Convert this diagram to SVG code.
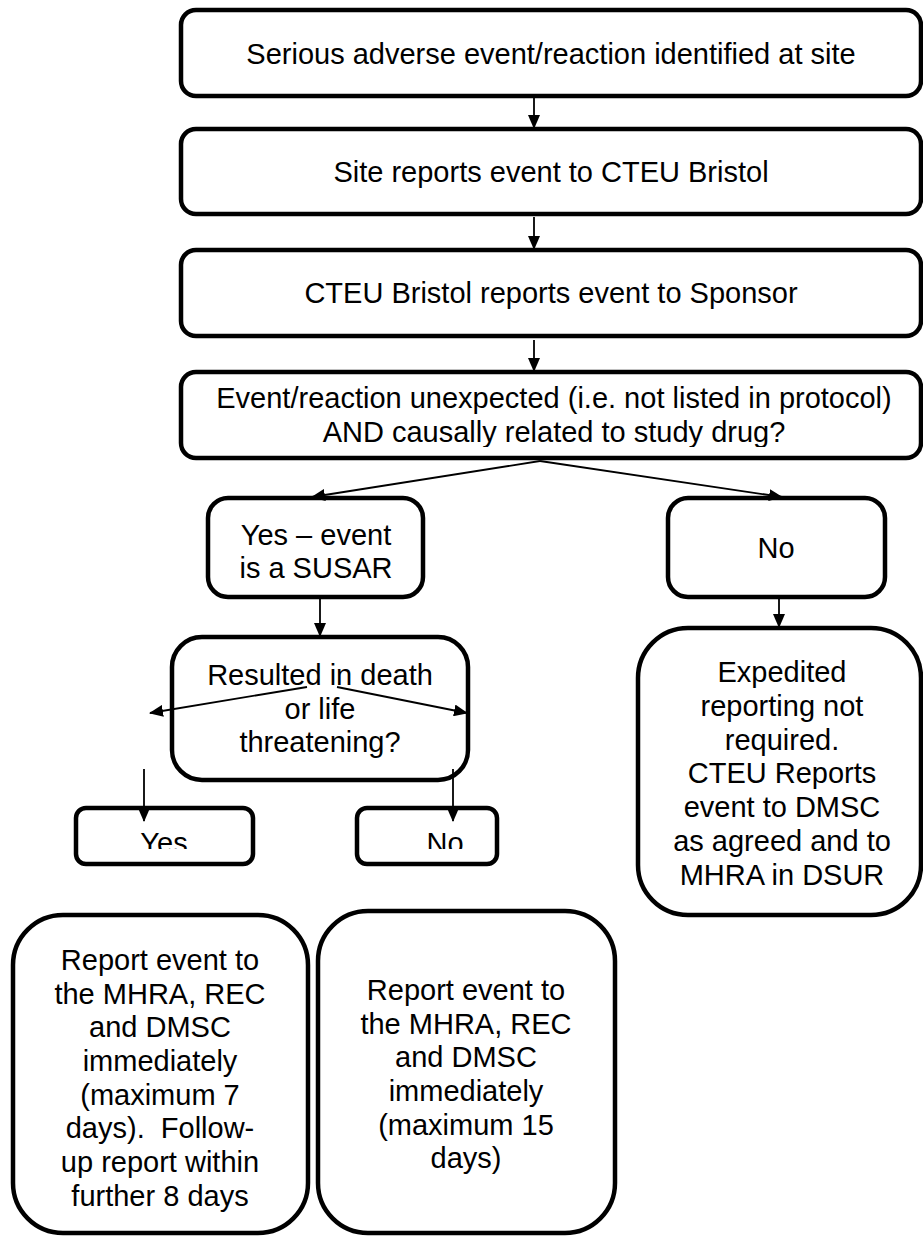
<svg xmlns="http://www.w3.org/2000/svg" width="923" height="1238" viewBox="0 0 923 1238">
<style>
.box{fill:#fff;stroke:#000;stroke-width:4.5}
.t{font-family:"Liberation Sans",Arial,sans-serif;font-size:29px;fill:#000;text-anchor:middle}
.c{stroke:#000;stroke-width:1.8;fill:none}
</style>
<defs>
<marker id="ah" markerWidth="14" markerHeight="12" refX="13" refY="6" orient="auto" markerUnits="userSpaceOnUse">
<path d="M0,0 L14,6 L0,12 z" fill="#000"/>
</marker>
<clipPath id="clipYN"><rect x="0" y="800" width="923" height="49"/></clipPath>
<clipPath id="clipQ"><rect x="0" y="370" width="923" height="77"/></clipPath>
</defs>
<rect width="923" height="1238" fill="#fff"/>

<g id="n1">
<rect class="box" x="181" y="10" width="740" height="86" rx="15"/>
<text class="t" x="551" y="63.5">Serious adverse event/reaction identified at site</text>
</g>
<g id="n2">
<rect class="box" x="181" y="129" width="740" height="85" rx="15"/>
<text class="t" x="551" y="182">Site reports event to CTEU Bristol</text>
</g>
<g id="n3">
<rect class="box" x="181" y="250" width="740" height="86" rx="15"/>
<text class="t" x="551" y="303">CTEU Bristol reports event to Sponsor</text>
</g>
<g id="n4">
<rect class="box" x="181" y="372" width="740" height="86" rx="15"/>
<g clip-path="url(#clipQ)">
<text class="t" x="554" y="408">Event/reaction unexpected (i.e. not listed in protocol)</text>
<text class="t" x="554" y="442">AND causally related to study drug?</text>
</g>
</g>
<g id="n5">
<rect class="box" x="208" y="498" width="215" height="99" rx="20"/>
<text class="t" x="316" y="545">Yes – event</text>
<text class="t" x="316" y="578">is a SUSAR</text>
</g>
<g id="n6">
<rect class="box" x="668" y="498" width="217" height="99" rx="20"/>
<text class="t" x="776" y="558">No</text>
</g>
<g id="n7">
<rect class="box" x="172" y="637" width="296" height="143" rx="30"/>
<text class="t" x="320" y="685">Resulted in death</text>
<text class="t" x="320" y="719">or life</text>
<text class="t" x="320" y="752">threatening?</text>
</g>
<g id="n8">
<rect class="box" x="638" y="628" width="283" height="287" rx="50"/>
<text class="t" x="782" y="682">Expedited</text>
<text class="t" x="782" y="716">reporting not</text>
<text class="t" x="782" y="750">required.</text>
<text class="t" x="782" y="783">CTEU Reports</text>
<text class="t" x="782" y="817">event to DMSC</text>
<text class="t" x="782" y="851">as agreed and to</text>
<text class="t" x="782" y="885">MHRA in DSUR</text>
</g>
<g id="n9">
<rect class="box" x="76" y="808" width="177" height="56" rx="10"/>
<text class="t" x="164" y="853" clip-path="url(#clipYN)">Yes</text>
</g>
<g id="n10">
<rect class="box" x="357" y="808" width="140" height="56" rx="10"/>
<text class="t" x="445" y="853" clip-path="url(#clipYN)">No</text>
</g>
<g id="n11">
<rect class="box" x="13" y="915" width="295" height="318" rx="50"/>
<text class="t" x="160" y="970">Report event to</text>
<text class="t" x="160" y="1004">the MHRA, REC</text>
<text class="t" x="160" y="1037">and DMSC</text>
<text class="t" x="160" y="1071">immediately</text>
<text class="t" x="160" y="1105">(maximum 7</text>
<text class="t" x="160" y="1138">days).&#160; Follow-</text>
<text class="t" x="160" y="1172">up report within</text>
<text class="t" x="160" y="1206">further 8 days</text>
</g>
<g id="n12">
<rect class="box" x="318" y="911" width="297" height="322" rx="50"/>
<text class="t" x="466" y="1000">Report event to</text>
<text class="t" x="466" y="1034">the MHRA, REC</text>
<text class="t" x="466" y="1067">and DMSC</text>
<text class="t" x="466" y="1101">immediately</text>
<text class="t" x="466" y="1135">(maximum 15</text>
<text class="t" x="466" y="1168">days)</text>
</g>

<g id="connectors">
<line class="c" x1="534" y1="98" x2="534" y2="128" marker-end="url(#ah)"/>
<line class="c" x1="534" y1="217" x2="534" y2="249" marker-end="url(#ah)"/>
<line class="c" x1="534" y1="340" x2="534" y2="371" marker-end="url(#ah)"/>
<line class="c" x1="540" y1="461" x2="312" y2="497" marker-end="url(#ah)"/>
<line class="c" x1="540" y1="461" x2="782" y2="497" marker-end="url(#ah)"/>
<line class="c" x1="320" y1="599" x2="320" y2="636" marker-end="url(#ah)"/>
<line class="c" x1="779" y1="599" x2="779" y2="627" marker-end="url(#ah)"/>
<line class="c" x1="307" y1="687" x2="150" y2="713" marker-end="url(#ah)"/>
<line class="c" x1="337" y1="687" x2="467" y2="713" marker-end="url(#ah)"/>
<line class="c" x1="144" y1="769" x2="144" y2="821" marker-end="url(#ah)"/>
<line class="c" x1="453" y1="769" x2="453" y2="821" marker-end="url(#ah)"/>
</g>
</svg>
